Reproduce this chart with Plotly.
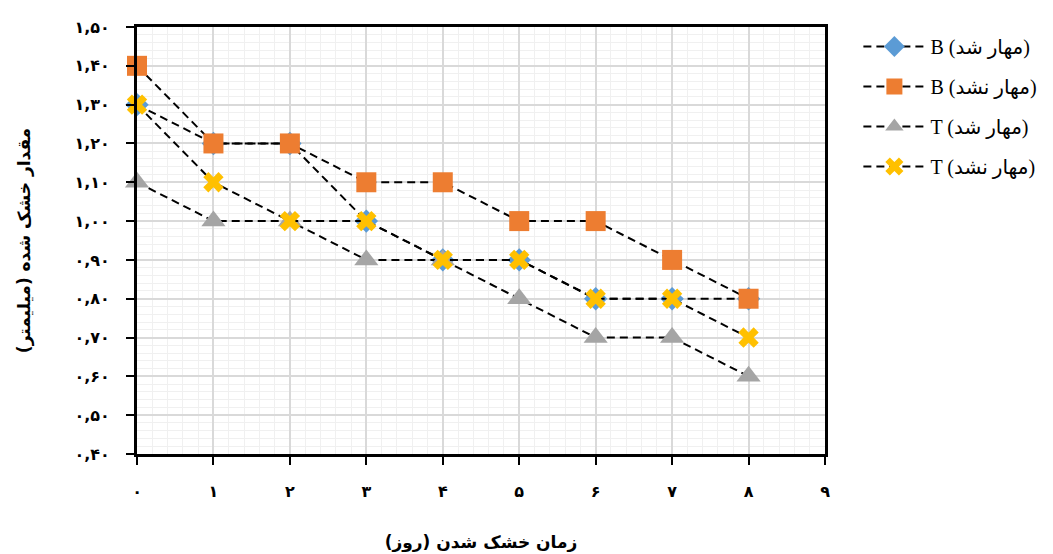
import plotly.graph_objects as go

# Drying days and measured dry thickness (mm) for each mix
days = [0, 1, 2, 3, 4, 5, 6, 7, 8]
b_sealed = [1.3, 1.2, 1.2, 1.0, 0.9, 0.9, 0.8, 0.8, 0.8]
b_unsealed = [1.4, 1.2, 1.2, 1.1, 1.1, 1.0, 1.0, 0.9, 0.8]
t_sealed = [1.1, 1.0, 1.0, 0.9, 0.9, 0.8, 0.7, 0.7, 0.6]
t_unsealed = [1.3, 1.1, 1.0, 1.0, 0.9, 0.9, 0.8, 0.8, 0.7]

series_names = ["B (مهار شد)", "B (مهار نشد)", "T (مهار شد)", "T (مهار نشد)"]

x_tickvals = list(range(10))
x_ticktext = ["۰", "۱", "۲", "۳", "۴", "۵", "۶", "۷", "۸", "۹"]
y_tickvals = [0.4, 0.5, 0.6, 0.7, 0.8, 0.9, 1.0, 1.1, 1.2, 1.3, 1.4, 1.5]
y_ticktext = ["۰,۴۰", "۰,۵۰", "۰,۶۰", "۰,۷۰", "۰,۸۰", "۰,۹۰",
              "۱,۰۰", "۱,۱۰", "۱,۲۰", "۱,۳۰", "۱,۴۰", "۱,۵۰"]

x_title = "زمان خشک شدن (روز)\u200f"
y_title = "مقدار خشک شده (میلیمتر)\u200f"

styles = [
    dict(symbol="diamond", color="#5B9BD5", size=18),
    dict(symbol="square", color="#ED7D31", size=20),
    dict(symbol="triangle-up", color="#A5A5A5", size=21),
    dict(symbol="x", color="#FFC000", size=18),
]

fig = go.Figure()
for i, (name, vals, st) in enumerate(zip(series_names, [b_sealed, b_unsealed, t_sealed, t_unsealed], styles)):
    fig.add_trace(go.Scatter(
        x=days, y=vals, name=name, mode="lines+markers", legendgroup=f"g{i}",
        line=dict(color="black", width=2, dash="8px,5px"),
        marker=dict(symbol=st["symbol"], color=st["color"], size=st["size"],
                    line=dict(width=0)),
        cliponaxis=False,
    ))

tick_font = dict(family="DejaVu Sans", size=16, color="black", weight="bold")
title_font = dict(family="DejaVu Sans", size=17, color="black", weight="bold")

fig.update_layout(
    width=1053, height=554,
    margin=dict(l=137, r=227, t=27, b=100),
    plot_bgcolor="white", paper_bgcolor="white",
    showlegend=True,
    legend=dict(x=1.047, y=1.0, xanchor="left", yanchor="top",
                font=dict(family="Liberation Serif, DejaVu Sans", size=20, color="black"),
                tracegroupgap=11, itemwidth=62, bgcolor="rgba(0,0,0,0)"),
    xaxis=dict(
        range=[0, 9], tickvals=x_tickvals, ticktext=x_ticktext, automargin=False,
        tickfont=tick_font, ticks="outside", ticklen=8, tickwidth=2, tickcolor="black",
        ticklabelstandoff=13,
        showline=True, linecolor="black", linewidth=3, mirror=True,
        showgrid=True, gridcolor="#d9d9d9", gridwidth=1.5,
        minor=dict(dtick=0.2, showgrid=True, gridcolor="#f0f0f0", gridwidth=1),
        zeroline=False,
        title=dict(text=x_title, font=title_font, standoff=36),
    ),
    yaxis=dict(
        range=[0.4, 1.5], tickvals=y_tickvals, ticktext=y_ticktext, automargin=False,
        tickfont=tick_font, ticks="outside", ticklen=8, tickwidth=2, tickcolor="black",
        ticklabelstandoff=13,
        showline=True, linecolor="black", linewidth=3, mirror=True,
        showgrid=True, gridcolor="#d9d9d9", gridwidth=1.5,
        minor=dict(dtick=0.02, showgrid=True, gridcolor="#f0f0f0", gridwidth=1),
        zeroline=False,
        title=dict(text=y_title, font=title_font, standoff=40),
    ),
)

fig.write_html("out.html")
